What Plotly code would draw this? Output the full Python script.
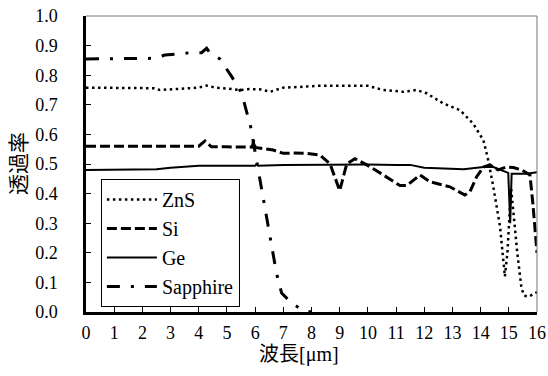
import plotly.graph_objects as go

# ---- data ----
znS_x = [0, 0.5, 1, 1.5, 2, 2.4, 2.62, 3, 3.5, 4, 4.28, 4.6, 5, 5.46, 5.8, 6.2, 6.53, 7, 7.5, 8.2, 9, 10,
         10.55, 11.25, 11.73, 12.08, 12.67, 13.27, 13.73, 14.1, 14.27, 14.45, 14.69, 14.86, 14.95, 15.08,
         15.3, 15.45, 15.55, 15.7, 16]
znS_y = [0.758, 0.758, 0.758, 0.758, 0.758, 0.756, 0.75, 0.752, 0.755, 0.758, 0.765, 0.758, 0.755, 0.75,
         0.753, 0.752, 0.744, 0.758, 0.76, 0.764, 0.764, 0.764, 0.75, 0.744, 0.75, 0.739, 0.705, 0.682,
         0.637, 0.58, 0.513, 0.423, 0.288, 0.12, 0.2, 0.42, 0.2, 0.08, 0.055, 0.052, 0.067]

si_x = [0, 1, 2, 3, 4, 4.22, 4.45, 5, 5.5, 5.9, 5.95, 6.0, 6.64, 7.0, 7.35, 7.83, 8.3, 8.66, 9.0, 9.25,
        9.54, 9.96, 10.43, 10.9, 11.14, 11.38, 11.85, 12.2, 12.91, 13.44, 13.62, 13.86, 14.1, 14.33,
        14.62, 14.92, 15.16, 15.45, 15.75, 15.85, 15.98, 16]
si_y = [0.56, 0.56, 0.56, 0.56, 0.56, 0.578, 0.558, 0.558, 0.558, 0.557, 0.58, 0.556, 0.547, 0.536, 0.537,
        0.536, 0.53, 0.5, 0.41, 0.5, 0.518, 0.497, 0.47, 0.44, 0.427, 0.427, 0.463, 0.44, 0.423, 0.395,
        0.406, 0.457, 0.49, 0.497, 0.48, 0.49, 0.488, 0.48, 0.463, 0.37, 0.22, 0.2]

ge_x = [0, 1, 2, 2.5, 3, 3.5, 4, 5, 6, 6.05, 6.1, 7, 8, 9, 10, 11, 11.5, 12, 12.5, 13, 13.4, 14.1,
        14.45, 14.98, 15.03, 15.05, 15.1, 15.63, 16]
ge_y = [0.48, 0.48, 0.48, 0.482, 0.487, 0.49, 0.494, 0.494, 0.494, 0.5, 0.494, 0.497, 0.498, 0.498,
        0.498, 0.497, 0.497, 0.487, 0.485, 0.485, 0.482, 0.49, 0.49, 0.47, 0.3, 0.3, 0.467, 0.467, 0.472]

sap_x = [0, 1, 2, 2.4, 2.8, 3.7, 4.1, 4.28, 4.4, 4.75, 5.17, 5.52, 5.84, 6.17, 6.28, 6.53, 6.76, 6.94,
         7.3, 7.7, 8.0]
sap_y = [0.855, 0.855, 0.855, 0.857, 0.868, 0.876, 0.876, 0.891, 0.875, 0.855, 0.795, 0.74, 0.626, 0.446,
         0.378, 0.254, 0.13, 0.064, 0.03, 0.005, 0.0]

x_ticks = list(range(0, 17))
y_ticks = [round(i * 0.1, 1) for i in range(11)]
x_title = "波長[μm]"
y_title = "透過率"

SERIF = "Liberation Serif, Times New Roman, serif"
MIXED = "Liberation Serif, Times New Roman, Noto Sans CJK JP, serif"

fig = go.Figure()
fig.add_trace(go.Scatter(x=znS_x, y=znS_y, mode="lines", name="ZnS",
                         line=dict(color="black", width=2.5, dash="2.5px,3.5px")))
fig.add_trace(go.Scatter(x=si_x, y=si_y, mode="lines", name="Si",
                         line=dict(color="black", width=3, dash="10px,4px")))
fig.add_trace(go.Scatter(x=ge_x, y=ge_y, mode="lines", name="Ge",
                         line=dict(color="black", width=2)))
fig.add_trace(go.Scatter(x=sap_x, y=sap_y, mode="lines", name="Sapphire",
                         line=dict(color="black", width=3, dash="13px,11px,3px,11px")))

fig.update_layout(
    width=548, height=376,
    margin=dict(l=86, r=11, t=16, b=64),
    plot_bgcolor="white", paper_bgcolor="white",
    font=dict(family=SERIF, size=18, color="black"),
    showlegend=True,
    legend=dict(x=0.033, y=0.449, xanchor="left", yanchor="top",
                bordercolor="black", borderwidth=1, bgcolor="white",
                font=dict(family=SERIF, size=20, color="black"),
                itemwidth=50, tracegroupgap=0),
    xaxis=dict(range=[0, 16], tickvals=x_ticks, ticktext=[str(v) for v in x_ticks],
               ticks="inside", ticklen=5, tickwidth=1, tickcolor="black",
               tickfont=dict(family=SERIF, size=18), automargin=False,
               showline=True, linecolor="black", linewidth=2.5, showgrid=False, zeroline=False,
               ticklabelstandoff=3),
    yaxis=dict(range=[0, 1], tickvals=y_ticks, ticktext=[f"{v:.1f}" for v in y_ticks],
               ticks="inside", ticklen=5, tickwidth=1, tickcolor="black",
               tickfont=dict(family=SERIF, size=18), automargin=False,
               showline=True, linecolor="black", linewidth=2.5, showgrid=False, zeroline=False,
               ticklabelstandoff=22),
    annotations=[
        dict(text=x_title, xref="paper", yref="paper", x=0.472, y=-0.142,
             xanchor="center", yanchor="middle", showarrow=False,
             font=dict(family=MIXED, size=20, color="black")),
        dict(text=y_title, xref="paper", yref="paper", x=-0.149, y=0.503,
             xanchor="center", yanchor="middle", showarrow=False, textangle=-90,
             font=dict(family=MIXED, size=21, color="black")),
    ],
    shapes=[
        dict(type="line", xref="paper", yref="paper", x0=0, x1=1, y0=1, y1=1,
             line=dict(color="#777777", width=1)),
        dict(type="line", xref="paper", yref="paper", x0=1, x1=1, y0=0, y1=1,
             line=dict(color="#777777", width=1)),
    ],
)

fig.write_html("out.html", config={"displayModeBar": False},
               post_script="document.body.style.margin='0';document.body.style.padding='0';")
